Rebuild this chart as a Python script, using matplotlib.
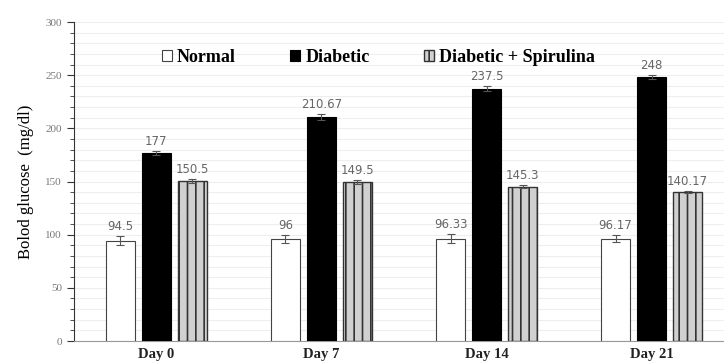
import numpy as np
import matplotlib
matplotlib.use('Agg')
import matplotlib.pyplot as plt
from matplotlib.ticker import MultipleLocator

days = ['Day 0', 'Day 7', 'Day 14', 'Day 21']
normal = [94.5, 96, 96.33, 96.17]
diabetic = [177, 210.67, 237.5, 248]
spirulina = [150.5, 149.5, 145.3, 140.17]
normal_err = [4, 4, 4, 3.5]
diabetic_err = [2, 2.5, 2.5, 2]
spirulina_err = [1.5, 1.5, 1.5, 1.2]
normal_lbl = ['94.5', '96', '96.33', '96.17']
diabetic_lbl = ['177', '210.67', '237.5', '248']
spirulina_lbl = ['150.5', '149.5', '145.3', '140.17']

plt.rcParams['hatch.linewidth'] = 1.2
fig = plt.figure(figsize=(7.24, 3.62), dpi=100)
ax = fig.add_axes([0.102, 0.058, 0.912, 0.881])

x = np.arange(len(days))
w = 0.178
off = 0.218
ek = dict(ecolor='#555555', elinewidth=0.8, capsize=3, capthick=0.8)
b1 = ax.bar(x - off, normal, w, color='white', edgecolor='#444444', linewidth=0.8,
            yerr=normal_err, error_kw=ek, label='Normal', zorder=3)
b2 = ax.bar(x, diabetic, w, color='black', edgecolor='black', linewidth=0.8,
            yerr=diabetic_err, error_kw=ek, label='Diabetic', zorder=3)
b3 = ax.bar(x + off, spirulina, w, color='#d0d0d0', edgecolor='#333333', linewidth=1.0,
            hatch='||', yerr=spirulina_err, error_kw=ek, label='Diabetic + Spirulina', zorder=3)

for bars, vals, errs, lbls in [(b1, normal, normal_err, normal_lbl),
                                (b2, diabetic, diabetic_err, diabetic_lbl),
                                (b3, spirulina, spirulina_err, spirulina_lbl)]:
    for r, v, e, t in zip(bars, vals, errs, lbls):
        ax.text(r.get_x() + r.get_width() / 2, v + e + 3, t, ha='center', va='bottom',
                fontsize=8.5, color='#666666', family='DejaVu Sans')

ax.set_xlim(-0.5, 3.5)
ax.set_ylim(0, 300)
ax.yaxis.set_major_locator(MultipleLocator(50))
ax.yaxis.set_minor_locator(MultipleLocator(10))
ax.grid(axis='y', which='both', color='#eeeeee', linewidth=0.8, zorder=0)
ax.set_axisbelow(True)
for s in ['top', 'right']:
    ax.spines[s].set_visible(False)
ax.spines['left'].set_color('#333333')
ax.spines['bottom'].set_color('#999999')
ax.tick_params(axis='y', which='major', length=5, color='#333333', labelsize=8,
               labelcolor='#777777', direction='out')
ax.tick_params(axis='y', which='minor', length=3, color='#333333')
ax.tick_params(axis='x', length=0, pad=5)
ax.set_xticks(x)
ax.set_xticklabels(days, family='Liberation Serif', fontweight='bold', fontsize=10.5, color='#222222')
for t in ax.get_yticklabels():
    t.set_family('Liberation Serif')
ax.set_ylabel('Bolod glucose  (mg/dl)', family='Liberation Serif', fontsize=12, labelpad=8)

leg = ax.legend(loc='center left', bbox_to_anchor=(0.133, 0.89), ncol=3, frameon=False,
                prop={'family': 'Liberation Serif', 'weight': 'bold', 'size': 13},
                handlelength=0.55, handleheight=0.55, handletextpad=0.3, columnspacing=3.0,
                borderpad=0, borderaxespad=0)

fig.savefig('out.png', dpi=100)
